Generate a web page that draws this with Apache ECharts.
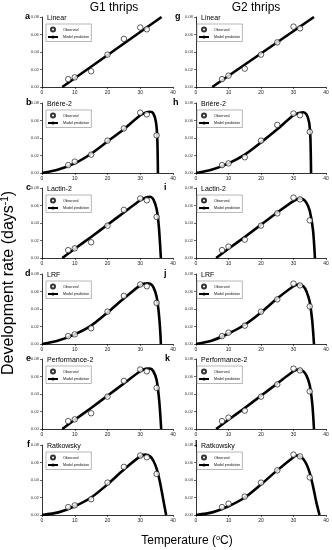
<!DOCTYPE html>
<html><head><meta charset="utf-8">
<script src="https://cdn.jsdelivr.net/npm/echarts@6/dist/echarts.min.js"></script>
<style>html,body{margin:0;padding:0;background:#fff}#c{width:332px;height:550px}</style>
</head><body><div id="c"></div>
<script>
// Observation temperatures (°C)
const temps = [8, 10, 15, 20, 25, 30, 32, 35];
// Observed development rates (days^-1)
const obsG1 = [0.009, 0.011, 0.018, 0.037, 0.055, 0.068, 0.066, 0.047];
const obsG2 = [0.009, 0.013, 0.021, 0.037, 0.051, 0.069, 0.067, 0.043];
// Model prediction curves: [temperature, rate]
const fitA = [[6.2, 0], [36.5, 0.08]];
const fitB = [[0, 0], [5, 0.004], [10, 0.011], [15, 0.022], [20, 0.036], [25, 0.050], [30, 0.066], [32, 0.0695], [33, 0.070], [34, 0.068], [34.8, 0.058], [35.2, 0.040], [35.4, 0]];
const fitC = [[6.2, 0], [10, 0.0105], [15, 0.024], [20, 0.038], [25, 0.052], [30, 0.066], [32, 0.0695], [33, 0.070], [34, 0.067], [35, 0.056], [35.7, 0.035], [36.3, 0]];
const fitD = [[0, 0], [5, 0.004], [10, 0.011], [15, 0.021], [20, 0.036], [25, 0.052], [30, 0.067], [32, 0.0695], [33, 0.069], [34, 0.065], [35, 0.054], [35.8, 0.030], [36.3, 0]];
const fitE = [[6.2, 0], [10, 0.0105], [15, 0.024], [20, 0.038], [25, 0.052], [30, 0.066], [32, 0.069], [33, 0.069], [34, 0.066], [35, 0.056], [35.8, 0.032], [36.4, 0]];
const fitF = [[0, 0], [5, 0.003], [10, 0.010], [15, 0.020], [20, 0.035], [25, 0.052], [30, 0.067], [31.5, 0.069], [33, 0.067], [34, 0.062], [35, 0.053], [36, 0.038], [37, 0.018], [37.9, 0]];
const fitG = [[5.0, 0], [36.3, 0.08]];
const fitH = [[0, 0], [5, 0.004], [10, 0.011], [15, 0.021], [20, 0.035], [25, 0.050], [30, 0.066], [32, 0.069], [33, 0.0695], [34, 0.067], [34.8, 0.058], [35.2, 0.040], [35.4, 0]];
const fitI = [[6.2, 0], [10, 0.0105], [15, 0.024], [20, 0.038], [25, 0.052], [30, 0.065], [32, 0.068], [33, 0.067], [34, 0.063], [35, 0.054], [36, 0.032], [36.6, 0]];
const fitJ = [[0, 0], [5, 0.004], [10, 0.012], [15, 0.022], [20, 0.036], [25, 0.052], [30, 0.066], [31.5, 0.068], [33, 0.066], [34, 0.060], [35, 0.048], [35.8, 0.025], [36.3, 0]];
const fitK = [[6.2, 0], [10, 0.0105], [15, 0.024], [20, 0.038], [25, 0.052], [30, 0.066], [31.5, 0.068], [33, 0.066], [34, 0.061], [35, 0.050], [35.8, 0.028], [36.3, 0]];
const fitL = [[0, 0], [5, 0.003], [10, 0.010], [15, 0.020], [20, 0.035], [25, 0.051], [30, 0.066], [31, 0.068], [32, 0.067], [33, 0.064], [34, 0.058], [35, 0.048], [36, 0.033], [37, 0.015], [38, 0]];
// Tick labels
const xTicks = [0, 10, 20, 30, 40];
const yTicks = ['0.00', '0.02', '0.04', '0.06', '0.08'];
const modelNames = ['Linear', 'Brière-2', 'Lactin-2', 'LRF', 'Performance-2', 'Ratkowsky'];
const lettersG1 = ['a', 'b', 'c', 'd', 'e', 'f'];
const lettersG2 = ['g', 'h', 'i', 'j', 'k', 'l'];
const columnTitles = ['G1 thrips', 'G2 thrips'];

const panels = [
  {letter: lettersG1[0], name: modelNames[0], obs: obsG1, n: 7, fit: fitA},
  {letter: lettersG1[1], name: modelNames[1], obs: obsG2, n: 8, fit: fitB},
  {letter: lettersG1[2], name: modelNames[2], obs: obsG1, n: 8, fit: fitC},
  {letter: lettersG1[3], name: modelNames[3], obs: obsG1, n: 8, fit: fitD},
  {letter: lettersG1[4], name: modelNames[4], obs: obsG1, n: 8, fit: fitE},
  {letter: lettersG1[5], name: modelNames[5], obs: obsG1, n: 8, fit: fitF},
  {letter: lettersG2[0], name: modelNames[0], obs: obsG2, n: 7, fit: fitG},
  {letter: lettersG2[1], name: modelNames[1], obs: obsG1, n: 8, fit: fitH},
  {letter: lettersG2[2], name: modelNames[2], obs: obsG2, n: 8, fit: fitI},
  {letter: lettersG2[3], name: modelNames[3], obs: obsG2, n: 8, fit: fitJ},
  {letter: lettersG2[4], name: modelNames[4], obs: obsG2, n: 8, fit: fitK},
  {letter: lettersG2[5], name: modelNames[5], obs: obsG2, n: 8, fit: fitL}
];

const FONT = '"Liberation Sans", Arial, sans-serif';
const colLeft = [42, 196];
const colWidth = [131, 130];
const rowTop = [17, 103, 188, 274, 359, 445];
const rowH = 70;
const letterX = [[25, 26, 26, 25, 26, 27], [175, 173, 164, 164, 165, 195]];

const grids = [], xAxes = [], yAxes = [], series = [], legends = [], graphics = [];
panels.forEach((p, i) => {
  const col = Math.floor(i / 6), row = i % 6;
  const left = colLeft[col], top = rowTop[row];
  grids.push({left: left, top: top, width: colWidth[col], height: rowH, containLabel: false});
  xAxes.push({
    type: 'value', gridIndex: i, min: xTicks[0], max: xTicks[xTicks.length - 1], interval: 10,
    axisLine: {show: true, onZero: false, lineStyle: {color: '#000', width: 0.8}},
    axisTick: {show: true, length: 2, lineStyle: {color: '#000', width: 0.6}},
    axisLabel: {fontSize: 5, margin: 3, color: '#222', fontFamily: FONT},
    splitLine: {show: false}
  });
  yAxes.push({
    type: 'value', gridIndex: i, min: 0, max: 0.08, interval: 0.02,
    axisLine: {show: true, onZero: false, lineStyle: {color: '#000', width: 0.8}},
    axisTick: {show: true, length: 2, lineStyle: {color: '#000', width: 0.6}},
    axisLabel: {fontSize: 4.3, margin: 3, color: '#333', fontFamily: FONT,
      formatter: v => yTicks[Math.round(v / 0.02)]},
    splitLine: {show: false}
  });
  series.push({
    name: 'Model prediction', type: 'line', xAxisIndex: i, yAxisIndex: i,
    data: p.fit, symbol: 'none', smooth: 0.25, clip: true,
    lineStyle: {color: '#000', width: 2.6}, itemStyle: {color: '#000'}, z: 2
  });
  series.push({
    name: 'Observed', type: 'scatter', xAxisIndex: i, yAxisIndex: i,
    data: temps.slice(0, p.n).map((t, k) => [t, p.obs[k]]),
    symbol: 'circle', symbolSize: 5.5,
    itemStyle: {color: '#fff', borderColor: '#000', borderWidth: 0.8}, z: 3
  });
  legends.push({
    data: ['Observed', 'Model prediction'], orient: 'vertical',
    left: left + (col === 0 ? 4 : 1), top: top + 7, itemWidth: 10, itemHeight: 4, itemGap: 2.5,
    padding: [2.5, 2, 2.5, 1], borderColor: '#888', borderWidth: 0.6,
    textStyle: {fontSize: 3.6, color: '#111', fontFamily: FONT}, selectedMode: false
  });
  graphics.push({type: 'text', left: left + 5, top: top - 2,
    style: {text: p.name, fontSize: 7, fill: '#000', fontFamily: FONT}});
  graphics.push({type: 'text', left: letterX[col][row], top: top - 5,
    style: {text: p.letter, fontSize: 9, fontWeight: 'bold', fill: '#000', fontFamily: FONT}});
});

graphics.push({type: 'text', x: 114, y: 8,
  style: {text: columnTitles[0], fontSize: 12, fill: '#000', fontFamily: FONT, align: 'center', verticalAlign: 'middle'}});
graphics.push({type: 'text', x: 256, y: 8,
  style: {text: columnTitles[1], fontSize: 12, fill: '#000', fontFamily: FONT, align: 'center', verticalAlign: 'middle'}});
graphics.push({type: 'text', x: 187, y: 541,
  style: {text: 'Temperature ({s|o}C)', fontSize: 12, fill: '#000', fontFamily: FONT, align: 'center', verticalAlign: 'middle',
    rich: {s: {fontSize: 7.5, fontFamily: FONT, verticalAlign: 'top', padding: [0, 0, 6, 0]}}}});
graphics.push({type: 'text', x: 9, y: 283, rotation: Math.PI / 2,
  style: {text: 'Development rate (days{s|-1})', fontSize: 16, fill: '#000', fontFamily: FONT, align: 'center', verticalAlign: 'middle',
    rich: {s: {fontSize: 10, fontFamily: FONT, verticalAlign: 'top', padding: [0, 0, 7, 0]}}}});

const chart = echarts.init(document.getElementById('c'), null, {renderer: 'canvas'});
chart.setOption({
  animation: false, backgroundColor: '#fff',
  grid: grids, xAxis: xAxes, yAxis: yAxes, series: series, legend: legends, graphic: graphics
});
</script></body></html>
